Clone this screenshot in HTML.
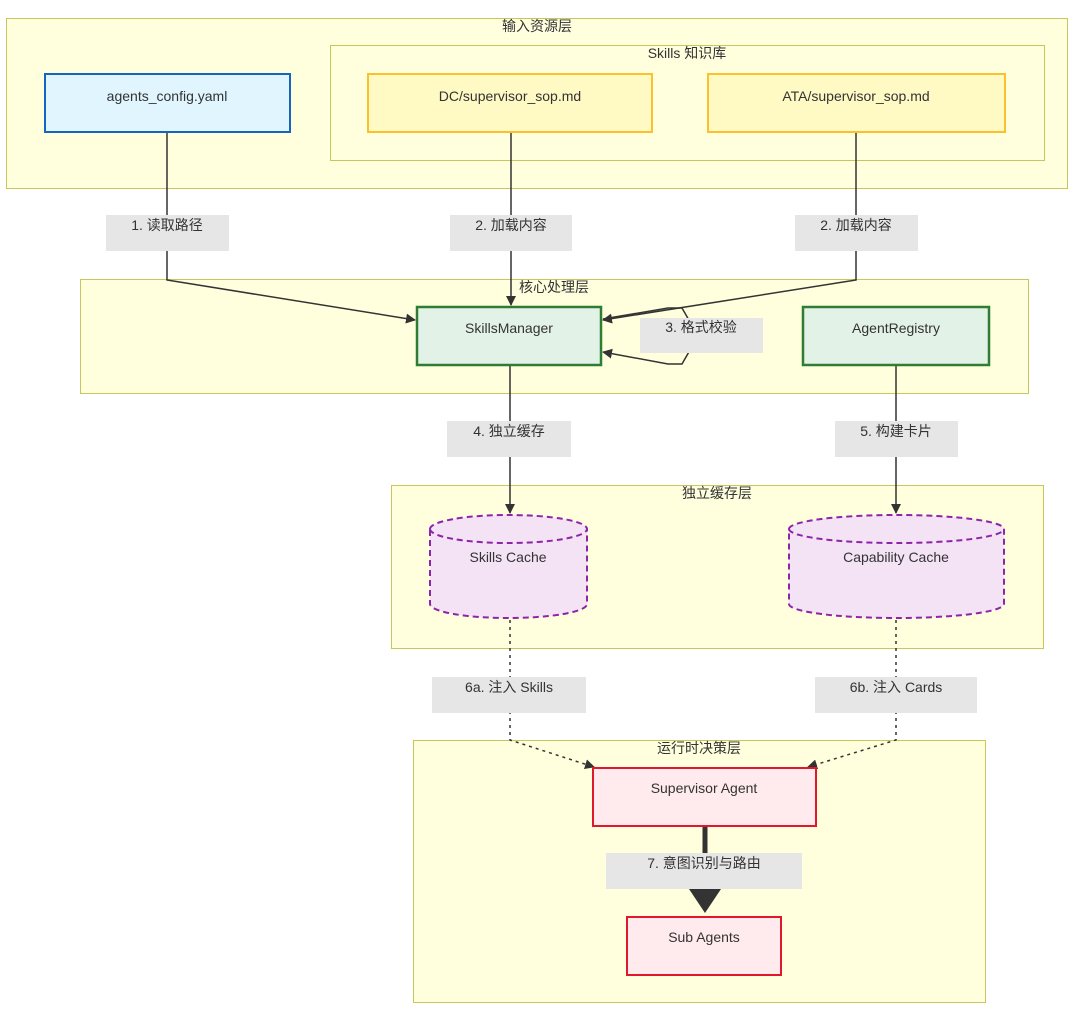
<!DOCTYPE html>
<html><head><meta charset="utf-8"><style>
html,body{margin:0;padding:0;background:#fff;}
svg{display:block}
text{font-family:"Liberation Sans","Noto Sans CJK SC",sans-serif;font-size:14px;fill:#333;}
</style></head><body>
<svg width="1080" height="1023" viewBox="0 0 1080 1023" xmlns="http://www.w3.org/2000/svg">
<defs>
<marker id="a" markerWidth="10" markerHeight="10" refX="9" refY="5" orient="auto" markerUnits="userSpaceOnUse"><path d="M0,0 L10,5 L0,10 z" fill="#333"/></marker>
<marker id="b" markerWidth="10" markerHeight="10" refX="5" refY="5" orient="auto" markerUnits="strokeWidth"><path d="M0,1 L6,5 L0,9 z" fill="#333"/></marker>
</defs>
<rect x="6.5" y="18.5" width="1061" height="170" fill="#ffffde" stroke="#c8c85a"/>
<text x="537" y="31" text-anchor="middle">输入资源层</text>
<rect x="330.5" y="45.5" width="714" height="115" fill="#ffffde" stroke="#c8c85a"/>
<text x="687" y="58" text-anchor="middle">Skills 知识库</text>
<rect x="80.5" y="279.5" width="948" height="114" fill="#ffffde" stroke="#c8c85a"/>
<text x="554" y="292" text-anchor="middle">核心处理层</text>
<rect x="391.5" y="485.5" width="652" height="163" fill="#ffffde" stroke="#c8c85a"/>
<text x="717" y="498" text-anchor="middle">独立缓存层</text>
<rect x="413.5" y="740.5" width="572" height="262" fill="#ffffde" stroke="#c8c85a"/>
<text x="699" y="753" text-anchor="middle">运行时决策层</text>

<g fill="none" stroke="#333" stroke-width="1.5">
<path d="M167,132 V280 L415,320" marker-end="url(#a)"/>
<path d="M511,132 V305" marker-end="url(#a)"/>
<path d="M856,132 V280 L603,320" marker-end="url(#a)"/>
<path d="M603,319 L668,308 L682,308 L690,322 L690,350 L682,364 L668,364 L603,352" marker-end="url(#a)"/>
<path d="M510,365 V513" marker-end="url(#a)"/>
<path d="M896,365 V513" marker-end="url(#a)"/>
<path d="M510,620 V740 L594,767" stroke-dasharray="3,4" marker-end="url(#a)"/>
<path d="M896,620 V740 L808,767" stroke-dasharray="3,4" marker-end="url(#a)"/>
</g>
<path d="M705,826 V908" stroke="#333" stroke-width="5" fill="none" marker-end="url(#b)"/>

<g fill="#e6e6e6">
<rect x="106" y="215" width="123" height="36"/>
<rect x="450" y="215" width="122" height="36"/>
<rect x="795" y="215" width="123" height="36"/>
<rect x="640" y="318" width="123" height="35"/>
<rect x="447" y="421" width="124" height="36"/>
<rect x="835" y="421" width="123" height="36"/>
<rect x="432" y="677" width="154" height="36"/>
<rect x="815" y="677" width="162" height="36"/>
<rect x="606" y="853" width="196" height="36"/>
</g>
<text x="167" y="230" text-anchor="middle">1. 读取路径</text>
<text x="511" y="230" text-anchor="middle">2. 加载内容</text>
<text x="856" y="230" text-anchor="middle">2. 加载内容</text>
<text x="701" y="332" text-anchor="middle">3. 格式校验</text>
<text x="509" y="436" text-anchor="middle">4. 独立缓存</text>
<text x="896" y="436" text-anchor="middle">5. 构建卡片</text>
<text x="509" y="692" text-anchor="middle">6a. 注入 Skills</text>
<text x="896" y="692" text-anchor="middle">6b. 注入 Cards</text>
<text x="704" y="868" text-anchor="middle">7. 意图识别与路由</text>

<rect x="45" y="74" width="245" height="58" fill="#e1f5fe" stroke="#1565c0" stroke-width="2"/>
<text x="167" y="101" text-anchor="middle">agents_config.yaml</text>
<rect x="368" y="74" width="284" height="58" fill="#fff9c4" stroke="#fbc02d" stroke-width="2"/>
<text x="510" y="101" text-anchor="middle">DC/supervisor_sop.md</text>
<rect x="708" y="74" width="297" height="58" fill="#fff9c4" stroke="#fbc02d" stroke-width="2"/>
<text x="856" y="101" text-anchor="middle">ATA/supervisor_sop.md</text>
<rect x="417" y="307" width="184" height="58" fill="#e3f2e6" stroke="#2e7d32" stroke-width="2.5"/>
<text x="509" y="333" text-anchor="middle">SkillsManager</text>
<rect x="803" y="307" width="186" height="58" fill="#e3f2e6" stroke="#2e7d32" stroke-width="2.5"/>
<text x="896" y="333" text-anchor="middle">AgentRegistry</text>

<g stroke="#8e24aa" stroke-width="2" stroke-dasharray="6,4" fill="#f3e3f5">
<path d="M430,529 A78.5,14 0 0 1 587,529 V604 A78.5,14 0 0 1 430,604 Z"/>
<path d="M430,529 A78.5,14 0 0 0 587,529" fill="none"/>
<path d="M789,529 A107.5,14 0 0 1 1004,529 V604 A107.5,14 0 0 1 789,604 Z"/>
<path d="M789,529 A107.5,14 0 0 0 1004,529" fill="none"/>
</g>
<text x="508" y="562" text-anchor="middle">Skills Cache</text>
<text x="896" y="562" text-anchor="middle">Capability Cache</text>

<rect x="593" y="768" width="223" height="58" fill="#ffebee" stroke="#e0182d" stroke-width="2"/>
<text x="704" y="793" text-anchor="middle">Supervisor Agent</text>
<rect x="627" y="917" width="154" height="58" fill="#ffebee" stroke="#e0182d" stroke-width="2"/>
<text x="704" y="942" text-anchor="middle">Sub Agents</text>
</svg>
</body></html>
